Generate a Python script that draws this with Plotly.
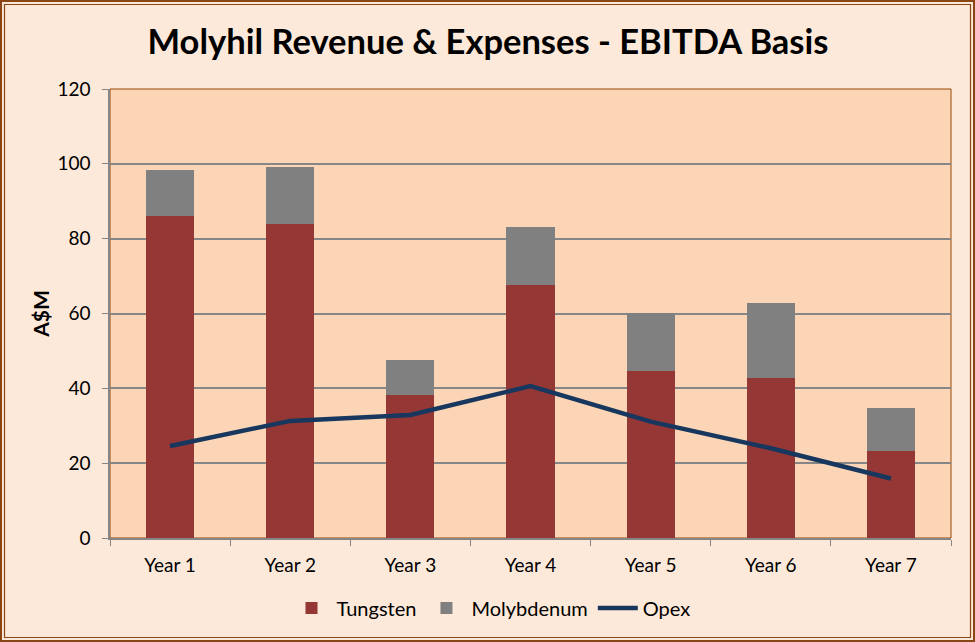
import plotly.graph_objects as go

years = ["Year 1", "Year 2", "Year 3", "Year 4", "Year 5", "Year 6", "Year 7"]
tungsten = [86.0, 83.9, 38.2, 67.6, 44.6, 42.8, 23.2]
molybdenum = [12.3, 15.2, 9.4, 15.5, 15.5, 19.9, 11.5]
opex = [24.6, 31.3, 32.9, 40.6, 31.1, 24.0, 15.9]

W, H = 975, 642
L, R, T, B = 110, 24, 89, 104
font = "Lato, 'Open Sans', sans-serif"

fig = go.Figure()
fig.add_trace(go.Bar(x=years, y=tungsten, name="Tungsten",
                     marker=dict(color="#953735", line=dict(width=0)), width=0.4))
fig.add_trace(go.Bar(x=years, y=molybdenum, name="Molybdenum",
                     marker=dict(color="#808080", line=dict(width=0)), width=0.4))
fig.add_trace(go.Scatter(x=years, y=opex, name="Opex", mode="lines",
                         line=dict(color="#17375e", width=4.5)))

# paper coordinates of the picture edges, for the double border
pw, ph = W - L - R, H - T - B
def px(x):
    return (x - L) / pw
def py(y):
    return (H - B - y) / ph

shapes = [
    dict(type="rect", xref="paper", yref="paper", x0=0, x1=1, y0=0, y1=1,
         fillcolor="#fbd5b5", line=dict(color="#984807", width=1), layer="below"),
    dict(type="rect", xref="paper", yref="paper", x0=px(1), x1=px(W - 1), y0=py(1), y1=py(H - 1),
         line=dict(color="#8b4513", width=2), fillcolor="rgba(0,0,0,0)"),
    dict(type="rect", xref="paper", yref="paper", x0=px(4.5), x1=px(W - 4.5), y0=py(4.5), y1=py(H - 4.5),
         line=dict(color="#8b4513", width=1.2), fillcolor="rgba(0,0,0,0)"),
]

fig.update_layout(
    width=W, height=H,
    margin=dict(l=L, r=R, t=T, b=B),
    barmode="stack",
    paper_bgcolor="#fde9d9",
    plot_bgcolor="#fbd5b5",
    font=dict(family=font, size=18, color="#000000"),
    title=dict(text="<b>Molyhil Revenue & Expenses - EBITDA Basis</b>",
               x=488 / W, xanchor="center", y=1 - 42 / H, yanchor="middle",
               font=dict(family=font, size=34.5, color="#000000")),
    xaxis=dict(showgrid=False, showline=True, linecolor="#868686", linewidth=1.5,
               ticks="outside", ticklen=6, tickcolor="#868686", tickson="boundaries",
               tickfont=dict(size=19), ticklabelstandoff=9),
    yaxis=dict(range=[0, 120], dtick=20, showgrid=True, gridcolor="#868686", gridwidth=1.5,
               showline=True, linecolor="#868686", linewidth=1.5,
               ticks="outside", ticklen=6, tickcolor="#868686", zeroline=False,
               tickfont=dict(size=19), ticklabelstandoff=8,
               title=dict(text="<b>A$M</b>", font=dict(size=21), standoff=2)),
    legend=dict(orientation="h", traceorder="normal", x=px(491),
                xanchor="center", y=py(608), yanchor="middle", font=dict(size=20),
                bgcolor="rgba(0,0,0,0)", itemwidth=40),
    shapes=shapes,
)

fig.write_html("out.html", config={"displayModeBar": False},
               post_script="document.body.style.margin='0';")
